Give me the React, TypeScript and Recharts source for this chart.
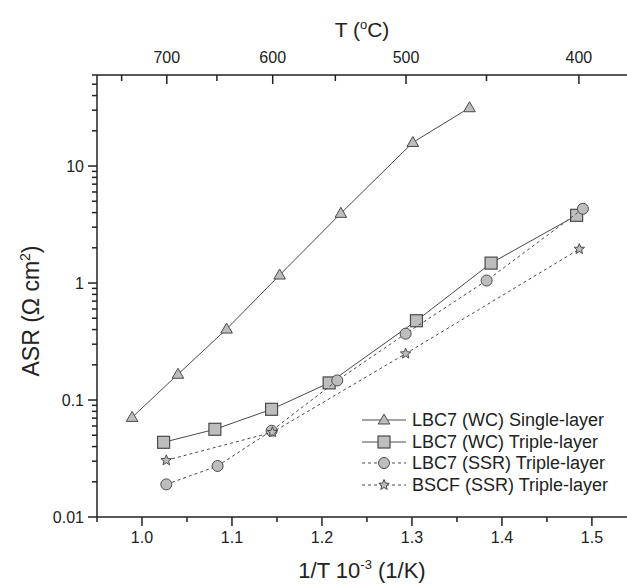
import React from "react";
import { ScatterChart, Scatter, XAxis, YAxis, Legend } from "recharts";

const FONT = '"Liberation Sans", Arial, Helvetica, sans-serif';
const INK = "#222";
const MARK_FILL = "#bdbdbd";
const MARK_STROKE = "#4a4a4a";

// 1/T (10^-3 1/K) vs ASR (ohm cm2)
const singleX = [0.989, 1.04, 1.094, 1.153, 1.221, 1.301, 1.364];
const singleY = [0.071, 0.166, 0.404, 1.17, 3.94, 15.9, 31.5];
const wcTripleX = [1.024, 1.081, 1.144, 1.208, 1.305, 1.388, 1.483];
const wcTripleY = [0.0435, 0.0562, 0.0833, 0.14, 0.476, 1.48, 3.79];
const ssrTripleX = [1.027, 1.084, 1.144, 1.217, 1.293, 1.383, 1.49];
const ssrTripleY = [0.019, 0.0273, 0.0546, 0.147, 0.369, 1.05, 4.31];
const bscfX = [1.027, 1.145, 1.293, 1.486];
const bscfY = [0.0305, 0.053, 0.249, 1.95];

// ticks
const xMajor = [1.0, 1.1, 1.2, 1.3, 1.4, 1.5];
const xMinor = [0.95, 1.05, 1.15, 1.25, 1.35, 1.45];
const yMajor = [0.01, 0.1, 1, 10];
const yMinor = [
  0.02, 0.03, 0.04, 0.05, 0.06, 0.07, 0.08, 0.09,
  0.2, 0.3, 0.4, 0.5, 0.6, 0.7, 0.8, 0.9,
  2, 3, 4, 5, 6, 7, 8, 9,
  20, 30, 40, 50, 60,
];
const tempMajor = [700, 600, 500, 400];
const tempMinor = [750, 650, 550, 450];

const invT = (c: number) => 1000 / (c + 273.15);
const toRows = (xs: number[], ys: number[]) => xs.map((x, i) => ({ x, y: ys[i] }));
const near = (list: number[], v: number) => list.some((a) => Math.abs(a - v) < 1e-6);

// ---------- marker shapes ----------
const Tri = ({ cx, cy }: any) => (
  <polygon
    points={`${cx},${cy - 6} ${cx - 5.8},${cy + 4} ${cx + 5.8},${cy + 4}`}
    fill={MARK_FILL}
    stroke={MARK_STROKE}
    strokeWidth={1}
  />
);
const Sq = ({ cx, cy }: any) => (
  <rect x={cx - 6} y={cy - 6} width={12} height={12} fill={MARK_FILL} stroke={MARK_STROKE} strokeWidth={1.2} />
);
const Circ = ({ cx, cy }: any) => (
  <circle cx={cx} cy={cy} r={5.5} fill={MARK_FILL} stroke={MARK_STROKE} strokeWidth={1} />
);
const Star = ({ cx, cy }: any) => {
  const pts: string[] = [];
  for (let i = 0; i < 10; i++) {
    const r = i % 2 === 0 ? 5.5 : 2.4;
    const a = -Math.PI / 2 + (i * Math.PI) / 5;
    pts.push(`${cx + r * Math.cos(a)},${cy + r * Math.sin(a)}`);
  }
  return <polygon points={pts.join(" ")} fill={MARK_FILL} stroke={MARK_STROKE} strokeWidth={1} />;
};

const series = [
  { name: "LBC7 (WC) Single-layer", rows: toRows(singleX, singleY), Shape: Tri, dash: undefined },
  { name: "LBC7 (WC) Triple-layer", rows: toRows(wcTripleX, wcTripleY), Shape: Sq, dash: undefined },
  { name: "LBC7 (SSR) Triple-layer", rows: toRows(ssrTripleX, ssrTripleY), Shape: Circ, dash: "3 3" },
  { name: "BSCF (SSR) Triple-layer", rows: toRows(bscfX, bscfY), Shape: Star, dash: "3 3" },
];

// ---------- axis ticks ----------
function BottomTick({ x, y, payload }: any) {
  const major = near(xMajor, payload.value);
  return (
    <g>
      <line x1={x} x2={x} y1={y} y2={y + (major ? 9 : 5)} stroke={INK} strokeWidth={1.5} />
      {major && (
        <text x={x} y={y + 26} textAnchor="middle" fontSize={16} fill={INK} fontFamily={FONT}>
          {payload.value.toFixed(1)}
        </text>
      )}
    </g>
  );
}

function TopTick({ x, y, payload }: any) {
  const t = Math.round(1000 / payload.value - 273.15);
  const major = tempMajor.includes(t);
  return (
    <g>
      <line x1={x} x2={x} y1={y} y2={y + (major ? 9 : 6)} stroke={INK} strokeWidth={1.5} />
      {major && (
        <text x={x} y={y - 12} textAnchor="middle" fontSize={16} fill={INK} fontFamily={FONT}>
          {t}
        </text>
      )}
    </g>
  );
}

function LeftTick({ x, y, payload }: any) {
  const major = near(yMajor, payload.value);
  return (
    <g>
      <line x1={x} x2={x - (major ? 9 : 5)} y1={y} y2={y} stroke={INK} strokeWidth={1.5} />
      {major && (
        <text x={x - 13} y={y} dy="0.35em" textAnchor="end" fontSize={16} fill={INK} fontFamily={FONT}>
          {String(payload.value)}
        </text>
      )}
    </g>
  );
}

// ---------- legend ----------
function LegendBox() {
  return (
    <div style={{ fontFamily: FONT, fontSize: 18, color: INK }}>
      {series.map((s) => (
        <div key={s.name} style={{ display: "flex", alignItems: "center", height: 21.7 }}>
          <svg width={46} height={20} style={{ marginRight: 4 }}>
            <line x1={0} x2={44} y1={10} y2={10} stroke={MARK_STROKE} strokeWidth={1} strokeDasharray={s.dash} />
            <s.Shape cx={22} cy={10} />
          </svg>
          <span style={{ whiteSpace: "nowrap", lineHeight: "20px" }}>{s.name}</span>
        </div>
      ))}
    </div>
  );
}

export default function App() {
  return (
    <div style={{ position: "absolute", left: 0, top: 0, width: 627, height: 586, overflow: "hidden", background: "#fff" }}>
      <ScatterChart width={627} height={586} margin={{ top: 0, right: 0, bottom: 0, left: 0 }}>
        <XAxis
          xAxisId="bottom"
          dataKey="x"
          type="number"
          domain={[0.95, 1.539]}
          allowDataOverflow
          ticks={[...xMinor, ...xMajor].sort((a, b) => a - b)}
          interval={0}
          height={69}
          tickSize={0}
          tickMargin={0}
          tickLine={false}
          tick={<BottomTick />}
          axisLine={{ stroke: INK, strokeWidth: 1.5 }}
          label={({ viewBox }: any) => (
            <text
              x={viewBox.x + viewBox.width / 2}
              y={viewBox.y + 61}
              textAnchor="middle"
              fontSize={22}
              fill={INK}
              fontFamily={FONT}
            >
              1/T 10
              <tspan dy={-9} fontSize={13}>-3</tspan>
              <tspan dy={9}> (1/K)</tspan>
            </text>
          )}
        />
        <XAxis
          xAxisId="top"
          dataKey="x"
          orientation="top"
          type="number"
          domain={[0.95, 1.539]}
          allowDataOverflow
          ticks={[...tempMinor, ...tempMajor].map(invT).sort((a, b) => a - b)}
          interval={0}
          height={75}
          tickSize={0}
          tickMargin={0}
          tickLine={false}
          tick={<TopTick />}
          axisLine={{ stroke: INK, strokeWidth: 1.5 }}
          label={({ viewBox }: any) => (
            <text
              x={viewBox.x + viewBox.width / 2}
              y={37}
              textAnchor="middle"
              fontSize={21}
              fill={INK}
              fontFamily={FONT}
            >
              T (
              <tspan dy={-8} fontSize={13}>o</tspan>
              <tspan dy={8}>C)</tspan>
            </text>
          )}
        />
        <YAxis
          dataKey="y"
          type="number"
          scale="log"
          domain={[0.01, 60]}
          allowDataOverflow
          ticks={[...yMajor, ...yMinor].sort((a, b) => a - b)}
          interval={0}
          width={97}
          tickSize={0}
          tickMargin={0}
          tickLine={false}
          tick={<LeftTick />}
          axisLine={{ stroke: INK, strokeWidth: 1.5 }}
          label={() => (
            <text
              x={39}
              y={311}
              transform="rotate(-90, 39, 311)"
              textAnchor="middle"
              fontSize={23}
              fill={INK}
              fontFamily={FONT}
            >
              ASR (Ω cm
              <tspan dy={-9} fontSize={14}>2</tspan>
              <tspan dy={9}>)</tspan>
            </text>
          )}
        />
        {/* invisible copy so the top temperature axis has something bound to it */}
        <Scatter
          xAxisId="top"
          data={series[0].rows}
          shape={() => <g />}
          legendType="none"
          isAnimationActive={false}
        />
        {series.map((s) => (
          <Scatter
            key={s.name}
            name={s.name}
            xAxisId="bottom"
            data={s.rows}
            line={{ stroke: MARK_STROKE, strokeWidth: 1, strokeDasharray: s.dash }}
            lineType="joint"
            shape={(p: any) => <s.Shape cx={p.cx} cy={p.cy} />}
            isAnimationActive={false}
          />
        ))}
        <Legend
          layout="vertical"
          align="center"
          verticalAlign="middle"
          wrapperStyle={{ left: 362, top: 409, width: 260 }}
          content={() => <LegendBox />}
        />
      </ScatterChart>
    </div>
  );
}
